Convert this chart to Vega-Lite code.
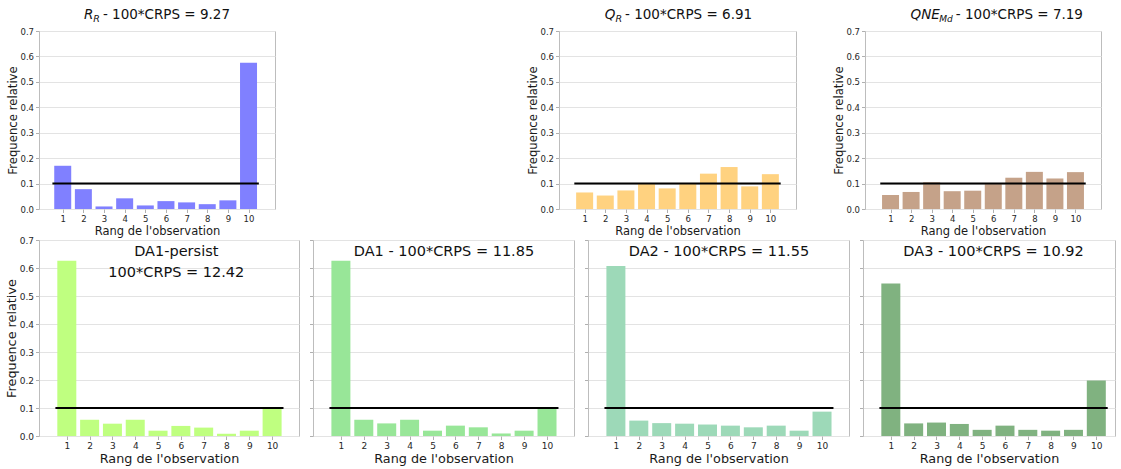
{
  "$schema": "https://vega.github.io/schema/vega-lite/v6.json",
  "padding": {"left": 4, "top": 7, "right": 0, "bottom": 0},
  "background": "white",
  "spacing": -2,
  "config": {
    "font": "DejaVu Sans",
    "view": {"stroke": "#bdbdbd", "strokeWidth": 1},
    "axis": {"domain": false, "labelColor": "#262626", "titleColor": "#1a1a1a", "titleFontWeight": "normal", "tickColor": "#b0b0b0", "tickSize": 3.5, "gridColor": "#e3e3e3", "labelPadding": 2},
    "axisX": {"grid": false},
    "text": {"color": "#111111"}
  },
  "datasets": {
    "RR": [{"rang":1,"freq":0.17},{"rang":2,"freq":0.078},{"rang":3,"freq":0.01},{"rang":4,"freq":0.042},{"rang":5,"freq":0.014},{"rang":6,"freq":0.031},{"rang":7,"freq":0.026},{"rang":8,"freq":0.019},{"rang":9,"freq":0.034},{"rang":10,"freq":0.575}],
    "QR": [{"rang":1,"freq":0.065},{"rang":2,"freq":0.053},{"rang":3,"freq":0.073},{"rang":4,"freq":0.099},{"rang":5,"freq":0.081},{"rang":6,"freq":0.099},{"rang":7,"freq":0.139},{"rang":8,"freq":0.165},{"rang":9,"freq":0.089},{"rang":10,"freq":0.137}],
    "QNE": [{"rang":1,"freq":0.055},{"rang":2,"freq":0.067},{"rang":3,"freq":0.105},{"rang":4,"freq":0.07},{"rang":5,"freq":0.072},{"rang":6,"freq":0.098},{"rang":7,"freq":0.123},{"rang":8,"freq":0.146},{"rang":9,"freq":0.12},{"rang":10,"freq":0.145}],
    "DA1P": [{"rang":1,"freq":0.626},{"rang":2,"freq":0.058},{"rang":3,"freq":0.044},{"rang":4,"freq":0.058},{"rang":5,"freq":0.019},{"rang":6,"freq":0.036},{"rang":7,"freq":0.03},{"rang":8,"freq":0.008},{"rang":9,"freq":0.019},{"rang":10,"freq":0.1}],
    "DA1": [{"rang":1,"freq":0.626},{"rang":2,"freq":0.058},{"rang":3,"freq":0.045},{"rang":4,"freq":0.058},{"rang":5,"freq":0.019},{"rang":6,"freq":0.037},{"rang":7,"freq":0.031},{"rang":8,"freq":0.009},{"rang":9,"freq":0.019},{"rang":10,"freq":0.1}],
    "DA2": [{"rang":1,"freq":0.607},{"rang":2,"freq":0.055},{"rang":3,"freq":0.046},{"rang":4,"freq":0.044},{"rang":5,"freq":0.041},{"rang":6,"freq":0.037},{"rang":7,"freq":0.031},{"rang":8,"freq":0.037},{"rang":9,"freq":0.019},{"rang":10,"freq":0.087}],
    "DA3": [{"rang":1,"freq":0.545},{"rang":2,"freq":0.045},{"rang":3,"freq":0.048},{"rang":4,"freq":0.043},{"rang":5,"freq":0.022},{"rang":6,"freq":0.037},{"rang":7,"freq":0.022},{"rang":8,"freq":0.019},{"rang":9,"freq":0.022},{"rang":10,"freq":0.198}]
  },
  "vconcat": [
    {
      "bounds": "flush",
      "spacing": 13,
      "hconcat": [
        {
          "width": 236, "height": 178,
          "data": {"name": "RR"},
          "resolve": {"axis": {"x": "independent", "y": "independent"}},
          "layer": [
            {"mark": {"type": "bar", "size": 17, "color": "#8080ff"},
             "encoding": {
               "x": {"field": "rang", "type": "quantitative", "scale": {"domain": [0.093, 11.04], "nice": false, "zero": false}, "axis": {"values": [1,2,3,4,5,6,7,8,9,10], "format": "d", "labelFontSize": 8.5, "title": "Rang de l'observation", "titleFontSize": 11.5, "titlePadding": 2}},
               "y": {"field": "freq", "type": "quantitative", "scale": {"domain": [0, 0.7], "nice": false}, "axis": {"values": [0,0.1,0.2,0.3,0.4,0.5,0.6,0.7], "format": ".1f", "labelFontSize": 8.5, "title": "Frequence relative", "titleFontSize": 11.7, "titlePadding": 1}}
             }},
            {"data": {"values": [{}]}, "mark": {"type": "rule", "color": "black", "strokeWidth": 2}, "encoding": {"x": {"datum": 0.5, "axis": null}, "x2": {"datum": 10.5}, "y": {"datum": 0.1, "axis": null}}},
            {"data": {"values": [{"t": "- 100*CRPS = 9.27"}]}, "mark": {"type": "text", "align": "left", "baseline": "middle", "fontSize": 13.5, "dx": 3}, "encoding": {"x": {"datum": 2.8, "axis": null}, "y": {"datum": 0.763, "axis": null}, "text": {"field": "t"}}},
            {"data": {"values": [{"t": "R"}]}, "mark": {"type": "text", "align": "right", "baseline": "middle", "fontSize": 13.5, "fontStyle": "italic", "dx": -6.5}, "encoding": {"x": {"datum": 2.8, "axis": null}, "y": {"datum": 0.763, "axis": null}, "text": {"field": "t"}}},
            {"data": {"values": [{"t": "R"}]}, "mark": {"type": "text", "align": "right", "baseline": "middle", "fontSize": 9.5, "fontStyle": "italic", "dy": 4}, "encoding": {"x": {"datum": 2.8, "axis": null}, "y": {"datum": 0.763, "axis": null}, "text": {"field": "t"}}}
          ]
        },
        {"width": 258, "height": 178, "data": {"values": [{}]}, "mark": {"type": "point", "opacity": 0, "size": 0}, "encoding": {}, "view": {"stroke": null}},
        {
          "width": 237, "height": 178,
          "data": {"name": "QR"},
          "resolve": {"axis": {"x": "independent", "y": "independent"}},
          "layer": [
            {"mark": {"type": "bar", "size": 17, "color": "#ffd280"},
             "encoding": {
               "x": {"field": "rang", "type": "quantitative", "scale": {"domain": [0, 11], "nice": false, "zero": false}, "axis": {"values": [1,2,3,4,5,6,7,8,9,10], "format": "d", "labelFontSize": 8.5, "title": "Rang de l'observation", "titleFontSize": 11.5, "titlePadding": 2}},
               "y": {"field": "freq", "type": "quantitative", "scale": {"domain": [0, 0.7], "nice": false}, "axis": {"values": [0,0.1,0.2,0.3,0.4,0.5,0.6,0.7], "format": ".1f", "labelFontSize": 8.5, "title": "Frequence relative", "titleFontSize": 11.7, "titlePadding": 1}}
             }},
            {"data": {"values": [{}]}, "mark": {"type": "rule", "color": "black", "strokeWidth": 2}, "encoding": {"x": {"datum": 0.5, "axis": null}, "x2": {"datum": 10.5}, "y": {"datum": 0.1, "axis": null}}},
            {"data": {"values": [{"t": "- 100*CRPS = 6.91"}]}, "mark": {"type": "text", "align": "left", "baseline": "middle", "fontSize": 13.5, "dx": 3}, "encoding": {"x": {"datum": 2.81, "axis": null}, "y": {"datum": 0.763, "axis": null}, "text": {"field": "t"}}},
            {"data": {"values": [{"t": "Q"}]}, "mark": {"type": "text", "align": "right", "baseline": "middle", "fontSize": 13.5, "fontStyle": "italic", "dx": -6.5}, "encoding": {"x": {"datum": 2.81, "axis": null}, "y": {"datum": 0.763, "axis": null}, "text": {"field": "t"}}},
            {"data": {"values": [{"t": "R"}]}, "mark": {"type": "text", "align": "right", "baseline": "middle", "fontSize": 9.5, "fontStyle": "italic", "dy": 4}, "encoding": {"x": {"datum": 2.81, "axis": null}, "y": {"datum": 0.763, "axis": null}, "text": {"field": "t"}}}
          ]
        },
        {"width": 43, "height": 178, "data": {"values": [{}]}, "mark": {"type": "point", "opacity": 0, "size": 0}, "encoding": {}, "view": {"stroke": null}},
        {
          "width": 236, "height": 178,
          "data": {"name": "QNE"},
          "resolve": {"axis": {"x": "independent", "y": "independent"}},
          "layer": [
            {"mark": {"type": "bar", "size": 17, "color": "#c5a289"},
             "encoding": {
               "x": {"field": "rang", "type": "quantitative", "scale": {"domain": [0, 11], "nice": false, "zero": false}, "axis": {"values": [1,2,3,4,5,6,7,8,9,10], "format": "d", "labelFontSize": 8.5, "title": "Rang de l'observation", "titleFontSize": 11.5, "titlePadding": 2}},
               "y": {"field": "freq", "type": "quantitative", "scale": {"domain": [0, 0.7], "nice": false}, "axis": {"values": [0,0.1,0.2,0.3,0.4,0.5,0.6,0.7], "format": ".1f", "labelFontSize": 8.5, "title": "Frequence relative", "titleFontSize": 11.7, "titlePadding": 1}}
             }},
            {"data": {"values": [{}]}, "mark": {"type": "rule", "color": "black", "strokeWidth": 2}, "encoding": {"x": {"datum": 0.5, "axis": null}, "x2": {"datum": 10.5}, "y": {"datum": 0.1, "axis": null}}},
            {"data": {"values": [{"t": "- 100*CRPS = 7.19"}]}, "mark": {"type": "text", "align": "left", "baseline": "middle", "fontSize": 13.5, "dx": 3}, "encoding": {"x": {"datum": 4.03, "axis": null}, "y": {"datum": 0.763, "axis": null}, "text": {"field": "t"}}},
            {"data": {"values": [{"t": "QNE"}]}, "mark": {"type": "text", "align": "right", "baseline": "middle", "fontSize": 13.5, "fontStyle": "italic", "dx": -13}, "encoding": {"x": {"datum": 4.03, "axis": null}, "y": {"datum": 0.763, "axis": null}, "text": {"field": "t"}}},
            {"data": {"values": [{"t": "Md"}]}, "mark": {"type": "text", "align": "right", "baseline": "middle", "fontSize": 9, "fontStyle": "italic", "dy": 4}, "encoding": {"x": {"datum": 4.03, "axis": null}, "y": {"datum": 0.763, "axis": null}, "text": {"field": "t"}}}
          ]
        }
      ]
    },
    {
      "bounds": "flush",
      "spacing": 14,
      "hconcat": [
        {
          "width": 260, "height": 196,
          "data": {"name": "DA1P"},
          "resolve": {"axis": {"x": "independent", "y": "independent"}},
          "layer": [
            {"mark": {"type": "bar", "size": 19, "color": "#bfff80"},
             "encoding": {
               "x": {"field": "rang", "type": "quantitative", "scale": {"domain": [0, 10.96], "nice": false, "zero": false}, "axis": {"values": [1,2,3,4,5,6,7,8,9,10], "format": "d", "labelFontSize": 9, "title": "Rang de l'observation", "titleFontSize": 12.8, "titlePadding": 2}},
               "y": {"field": "freq", "type": "quantitative", "scale": {"domain": [0, 0.7], "nice": false}, "axis": {"values": [0,0.1,0.2,0.3,0.4,0.5,0.6,0.7], "format": ".1f", "labelFontSize": 9, "title": "Frequence relative", "titleFontSize": 12.8, "titlePadding": 1}}
             }},
            {"data": {"values": [{}]}, "mark": {"type": "rule", "color": "black", "strokeWidth": 2}, "encoding": {"x": {"datum": 0.5, "axis": null}, "x2": {"datum": 10.5}, "y": {"datum": 0.1, "axis": null}}},
            {"data": {"values": [{"t": "DA1-persist"}]}, "mark": {"type": "text", "align": "center", "baseline": "middle", "fontSize": 14.5}, "encoding": {"x": {"datum": 5.8, "axis": null}, "y": {"datum": 0.657, "axis": null}, "text": {"field": "t"}}},
            {"data": {"values": [{"t": "100*CRPS = 12.42"}]}, "mark": {"type": "text", "align": "center", "baseline": "middle", "fontSize": 14.5}, "encoding": {"x": {"datum": 5.8, "axis": null}, "y": {"datum": 0.582, "axis": null}, "text": {"field": "t"}}}
          ]
        },
        {
          "width": 261, "height": 196,
          "data": {"name": "DA1"},
          "resolve": {"axis": {"x": "independent", "y": "independent"}},
          "layer": [
            {"mark": {"type": "bar", "size": 19, "color": "#98e698"},
             "encoding": {
               "x": {"field": "rang", "type": "quantitative", "scale": {"domain": [0, 10.96], "nice": false, "zero": false}, "axis": {"values": [1,2,3,4,5,6,7,8,9,10], "format": "d", "labelFontSize": 9, "title": "Rang de l'observation", "titleFontSize": 12.8, "titlePadding": 2}},
               "y": {"field": "freq", "type": "quantitative", "scale": {"domain": [0, 0.7], "nice": false}, "axis": {"values": [0,0.1,0.2,0.3,0.4,0.5,0.6,0.7], "labels": false, "title": null}}
             }},
            {"data": {"values": [{}]}, "mark": {"type": "rule", "color": "black", "strokeWidth": 2}, "encoding": {"x": {"datum": 0.5, "axis": null}, "x2": {"datum": 10.5}, "y": {"datum": 0.1, "axis": null}}},
            {"data": {"values": [{"t": "DA1 - 100*CRPS = 11.85"}]}, "mark": {"type": "text", "align": "center", "baseline": "middle", "fontSize": 14.5}, "encoding": {"x": {"datum": 5.5, "axis": null}, "y": {"datum": 0.657, "axis": null}, "text": {"field": "t"}}}
          ]
        },
        {
          "width": 261, "height": 196,
          "data": {"name": "DA2"},
          "resolve": {"axis": {"x": "independent", "y": "independent"}},
          "layer": [
            {"mark": {"type": "bar", "size": 19, "color": "#9dd9b8"},
             "encoding": {
               "x": {"field": "rang", "type": "quantitative", "scale": {"domain": [0, 10.96], "nice": false, "zero": false}, "axis": {"values": [1,2,3,4,5,6,7,8,9,10], "format": "d", "labelFontSize": 9, "title": "Rang de l'observation", "titleFontSize": 12.8, "titlePadding": 2}},
               "y": {"field": "freq", "type": "quantitative", "scale": {"domain": [0, 0.7], "nice": false}, "axis": {"values": [0,0.1,0.2,0.3,0.4,0.5,0.6,0.7], "labels": false, "title": null}}
             }},
            {"data": {"values": [{}]}, "mark": {"type": "rule", "color": "black", "strokeWidth": 2}, "encoding": {"x": {"datum": 0.5, "axis": null}, "x2": {"datum": 10.5}, "y": {"datum": 0.1, "axis": null}}},
            {"data": {"values": [{"t": "DA2 - 100*CRPS = 11.55"}]}, "mark": {"type": "text", "align": "center", "baseline": "middle", "fontSize": 14.5}, "encoding": {"x": {"datum": 5.5, "axis": null}, "y": {"datum": 0.657, "axis": null}, "text": {"field": "t"}}}
          ]
        },
        {
          "width": 252, "height": 196,
          "data": {"name": "DA3"},
          "resolve": {"axis": {"x": "independent", "y": "independent"}},
          "layer": [
            {"mark": {"type": "bar", "size": 19, "color": "#80b280"},
             "encoding": {
               "x": {"field": "rang", "type": "quantitative", "scale": {"domain": [0, 10.6], "nice": false, "zero": false}, "axis": {"values": [1,2,3,4,5,6,7,8,9,10], "format": "d", "labelFontSize": 9, "title": "Rang de l'observation", "titleFontSize": 12.8, "titlePadding": 2}},
               "y": {"field": "freq", "type": "quantitative", "scale": {"domain": [0, 0.7], "nice": false}, "axis": {"values": [0,0.1,0.2,0.3,0.4,0.5,0.6,0.7], "labels": false, "title": null}}
             }},
            {"data": {"values": [{}]}, "mark": {"type": "rule", "color": "black", "strokeWidth": 2}, "encoding": {"x": {"datum": 0.5, "axis": null}, "x2": {"datum": 10.5}, "y": {"datum": 0.1, "axis": null}}},
            {"data": {"values": [{"t": "DA3 - 100*CRPS = 10.92"}]}, "mark": {"type": "text", "align": "center", "baseline": "middle", "fontSize": 14.5}, "encoding": {"x": {"datum": 5.5, "axis": null}, "y": {"datum": 0.657, "axis": null}, "text": {"field": "t"}}}
          ]
        }
      ]
    }
  ]
}
